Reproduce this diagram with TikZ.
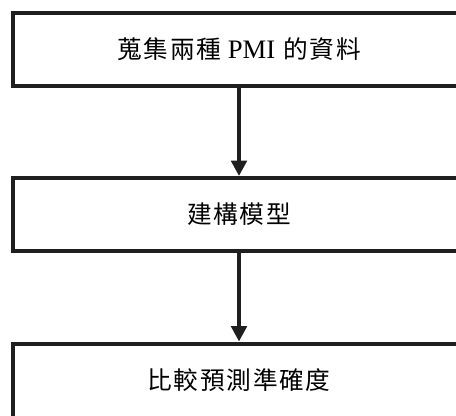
\documentclass[tikz,border=0pt]{standalone}
\usepackage{fontspec}
\setmainfont{Liberation Serif}
\newfontfamily\cjk[LetterSpace=7]{Noto Sans CJK TC}
\usetikzlibrary{arrows.meta}
\tikzset{
  stepbox/.style={draw=black!88, line width=3pt, rectangle, minimum width=452*0.75pt, minimum height=73*0.75pt, inner sep=0pt, font=\fontsize{18.5pt}{20pt}\selectfont\cjk},
  flowarrow/.style={draw=black!88, line width=3pt, -{Triangle[length=11.5pt,width=11.5pt]}, shorten <=-1pt}
}
\begin{document}
\begin{tikzpicture}[x=0.75pt,y=-0.75pt]
\useasboundingbox (0,0) rectangle (456,415);
\clip (0,0) rectangle (456,415);
\node[stepbox] (collect) at (239,49) {蒐集兩種\hspace{5pt}{\rmfamily\fontsize{20pt}{22pt}\selectfont PMI}\hspace{6pt}的資料};
\node[stepbox] (build) at (239,214.5) {建構模型};
\node[stepbox, minimum height=74*0.75pt] (compare) at (239,380.5) {比較預測準確度};
\draw[flowarrow] (collect.south) -- (build.north);
\draw[flowarrow] (build.south) -- (compare.north);
\end{tikzpicture}
\end{document}
